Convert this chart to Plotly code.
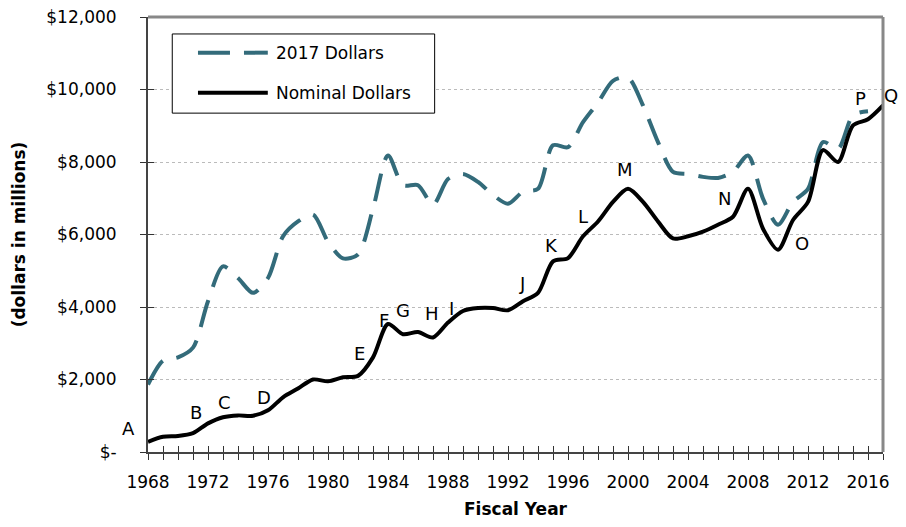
"""
Spending in nominal and 2017 dollars by fiscal year.
Draws a line chart using Plotly.
"""

import plotly.graph_objects as go

years = list(range(1968, 2018))

nominal = [
    280, 420, 440, 520, 790, 960, 1010, 1000, 1150, 1510,
    1750, 2000, 1950, 2060, 2100, 2610, 3530, 3250, 3310, 3160,
    3570, 3890, 3970, 3970, 3910, 4160, 4390, 5260, 5350, 5950,
    6360, 6900, 7260, 6900, 6360, 5890, 5950, 6080, 6270, 6490,
    7260, 6160, 5580, 6400, 6900, 8330, 8000, 9010, 9180, 9560,
]

real_2017 = [
    1860, 2520, 2610, 2880, 4160, 5120, 4800, 4390, 4800, 5950,
    6360, 6550, 5800, 5340, 5450, 6710, 8180, 7360, 7360, 6820,
    7530, 7670, 7450, 7090, 6850, 7180, 7260, 8460, 8410, 9100,
    9640, 10240, 10330, 9560, 8550, 7730, 7670, 7590, 7560, 7730,
    8180, 6990, 6270, 6900, 7260, 8550, 8360, 9290, 9400,
]

# point labels: (letter, year, value)
point_labels = [
    ("A", 1966.7, 650), ("B", 1971.2, 1100), ("C", 1973.1, 1370),
    ("D", 1975.7, 1510), ("E", 1982.1, 2710), ("F", 1983.7, 3620),
    ("G", 1985.0, 3890), ("H", 1986.9, 3810), ("I", 1988.2, 3970),
    ("J", 1992.9, 4660), ("K", 1994.9, 5700), ("L", 1997.0, 6490),
    ("M", 1999.8, 7780), ("N", 2006.4, 6990), ("O", 2011.6, 5750),
    ("P", 2015.5, 9750), ("Q", 2017.55, 9840),
]

y_ticks = [0, 2000, 4000, 6000, 8000, 10000, 12000]
y_tick_text = ["$-", "$2,000", "$4,000", "$6,000", "$8,000", "$10,000", "$12,000"]

TEAL = "#336B7A"
FONT = "DejaVu Sans"
X_RANGE = [1968, 2017]
Y_RANGE = [0, 12000]

fig = go.Figure()

fig.add_trace(
    go.Scatter(
        x=years[: len(real_2017)],
        y=real_2017,
        mode="lines",
        name="2017 Dollars",
        line=dict(color=TEAL, width=4, dash="28px,14px", shape="spline", smoothing=0.8),
    )
)

fig.add_trace(
    go.Scatter(
        x=years,
        y=nominal,
        mode="lines",
        name="Nominal Dollars",
        line=dict(color="black", width=4, shape="spline", smoothing=0.8),
    )
)

# invisible trace so the inner-tick axes get drawn
fig.add_trace(
    go.Scatter(x=[years[0]], y=[0], xaxis="x2", yaxis="y2", mode="markers",
               marker=dict(opacity=0), showlegend=False, hoverinfo="skip")
)

# letters outside the axis range would be hidden, so place those in paper units
for label, x, y in point_labels:
    if X_RANGE[0] <= x <= X_RANGE[1]:
        fig.add_annotation(x=x, y=y, text=label, showarrow=False,
                           font=dict(family=FONT, size=18, color="black"))
    else:
        px = (x - X_RANGE[0]) / (X_RANGE[1] - X_RANGE[0])
        py = (y - Y_RANGE[0]) / (Y_RANGE[1] - Y_RANGE[0])
        fig.add_annotation(xref="paper", yref="paper", x=px, y=py, text=label,
                           showarrow=False, xanchor="center", yanchor="middle",
                           font=dict(family=FONT, size=18, color="black"))

# hand-made legend to match the long line samples
fig.add_shape(type="rect", xref="paper", yref="paper",
              x0=0.033, x1=0.390, y0=0.779, y1=0.961,
              line=dict(color="black", width=1), fillcolor="white")
fig.add_shape(type="line", xref="paper", yref="paper",
              x0=0.068, x1=0.163, y0=0.918, y1=0.918,
              line=dict(color=TEAL, width=4, dash="32px,14px"))
fig.add_shape(type="line", xref="paper", yref="paper",
              x0=0.068, x1=0.163, y0=0.826, y1=0.826,
              line=dict(color="black", width=4))
fig.add_annotation(xref="paper", yref="paper", x=0.172, y=0.918,
                   xanchor="left", yanchor="middle",
                   text="2017 Dollars", showarrow=False,
                   font=dict(family=FONT, size=17, color="black"))
fig.add_annotation(xref="paper", yref="paper", x=0.172, y=0.826,
                   xanchor="left", yanchor="middle",
                   text="Nominal Dollars", showarrow=False,
                   font=dict(family=FONT, size=17, color="black"))

# page body has an 8px margin, so the figure is shrunk to fit the window
fig.update_layout(
    width=890,
    height=511,
    margin=dict(l=140, r=15, t=9, b=67),
    paper_bgcolor="white",
    plot_bgcolor="white",
    showlegend=False,
    font=dict(family=FONT, size=17, color="black"),
    xaxis=dict(
        range=X_RANGE,
        tickvals=years,
        ticktext=[str(y) if (y - 1968) % 4 == 0 else "" for y in years],
        ticks="outside", ticklen=6, tickwidth=1, tickcolor="#333333",
        ticklabelstandoff=8, tickfont=dict(size=17), ticklabeloverflow="allow",
        showline=True, linecolor="#444444", linewidth=2,
        showgrid=False, zeroline=False, automargin=False,
        title=dict(text="<b>Fiscal Year</b>", standoff=14, font=dict(size=17)),
    ),
    yaxis=dict(
        range=Y_RANGE,
        tickvals=y_ticks,
        ticktext=y_tick_text,
        ticks="outside", ticklen=6, tickwidth=1, tickcolor="#333333",
        ticklabelstandoff=20, tickfont=dict(size=17), ticklabeloverflow="allow",
        showline=True, linecolor="#444444", linewidth=2,
        showgrid=True, gridcolor="#BBBBBB", griddash="dot", gridwidth=1,
        zeroline=False, automargin=False,
        title=dict(text="<b>(dollars in millions)</b>", standoff=16, font=dict(size=17)),
    ),
    xaxis2=dict(
        range=X_RANGE, overlaying="x", anchor="y2", side="bottom",
        tickvals=years, ticks="inside", ticklen=6, tickwidth=1, tickcolor="#333333",
        showticklabels=False, showgrid=False, zeroline=False, showline=False,
        automargin=False,
    ),
    yaxis2=dict(
        range=Y_RANGE, overlaying="y", anchor="x2", side="left",
        tickvals=y_ticks, ticks="inside", ticklen=6, tickwidth=1, tickcolor="#333333",
        showticklabels=False, showgrid=False, zeroline=False, showline=False,
        automargin=False,
    ),
)

# gray frame on top and right
fig.add_shape(type="line", xref="paper", yref="paper", x0=0, x1=1, y0=1, y1=1,
              line=dict(color="#888888", width=3))
fig.add_shape(type="line", xref="paper", yref="paper", x0=1, x1=1, y0=0, y1=1,
              line=dict(color="#888888", width=3))

fig.write_html("out.html")
